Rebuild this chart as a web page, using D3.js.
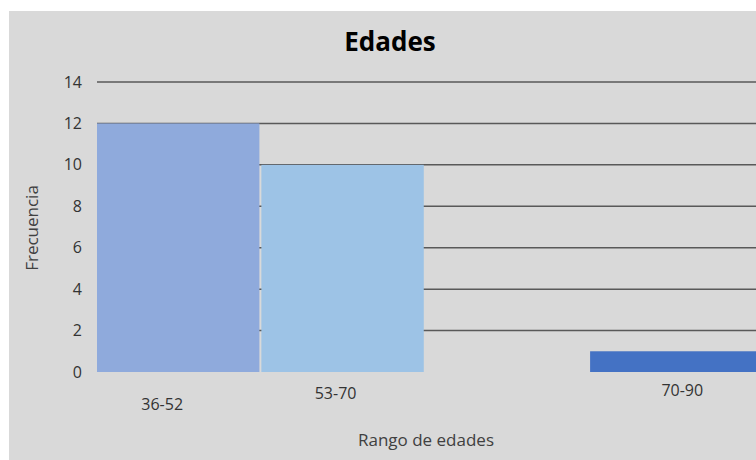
<!DOCTYPE html>
<html>
<head>
<meta charset="utf-8">
<script src="https://cdn.jsdelivr.net/npm/d3@7/dist/d3.min.js"></script>
<style>
  body { margin: 0; background: #fff; }
  svg { display: block; font-family: "Open Sans", sans-serif; }
</style>
</head>
<body>
<svg width="756" height="460"></svg>
<script>
// datos del histograma
var rangos = ["36-52", "53-70", "", "70-90"];
var frecuencias = [12, 10, 0, 1];
var colores = ["#8FAADC", "#9DC3E6", "#9DC3E6", "#4472C4"];
var yTicks = [0, 2, 4, 6, 8, 10, 12, 14];

var svg = d3.select("svg");

// fondo gris del grafico
svg.append("rect")
    .attr("x", 9).attr("y", 11)
    .attr("width", 760).attr("height", 460)
    .attr("fill", "#D9D9D9");

var margin = {top: 82, left: 97},
    height = 290;

var keys = rangos.map(function(d, i) { return i; });

var x = d3.scaleBand().domain(keys).range([margin.left, 752.5]).paddingInner(0.012),
    y = d3.scaleLinear().domain([0, 14]).range([margin.top + height, margin.top]);

// lineas de cuadricula
svg.append("g")
    .attr("class", "grid")
    .selectAll("line")
    .data(yTicks.filter(function(d) { return d > 0; }))
    .enter().append("line")
      .attr("x1", margin.left)
      .attr("x2", 756)
      .attr("y1", function(d) { return y(d); })
      .attr("y2", function(d) { return y(d); })
      .attr("stroke", "#595959")
      .attr("stroke-width", 1.5);

// barras
svg.selectAll(".bar")
    .data(frecuencias)
    .enter().append("rect")
      .attr("class", "bar")
      .attr("x", function(d, i) { return x(i); })
      .attr("y", function(d) { return y(d); })
      .attr("width", function(d, i) { return i == 3 ? 760 - x(i) : x.bandwidth(); })
      .attr("height", function(d) { return y(0) - y(d); })
      .attr("fill", function(d, i) { return colores[i]; });

// eje y (sin linea)
var yAxis = svg.append("g")
    .attr("transform", "translate(" + (margin.left - 15) + ",0)")
    .call(d3.axisLeft(y).tickValues(yTicks).tickSize(0).tickPadding(0));
yAxis.select(".domain").remove();
yAxis.selectAll("text")
    .style("font-size", "16px")
    .style("font-family", "'Open Sans', sans-serif")
    .style("fill", "#333");

// etiquetas del eje x, colocadas como en el original
var nudgeX = [-16, -7, 0, 11],
    posY = [410, 399, 0, 396];
var xAxis = svg.append("g")
    .call(d3.axisBottom(x).tickSize(0).tickFormat(function(i) { return rangos[i]; }));
xAxis.select(".domain").remove();
xAxis.selectAll(".tick text")
    .attr("y", 0)
    .attr("dy", 0)
    .attr("transform", function(i) { return "translate(" + nudgeX[i] + "," + posY[i] + ")"; })
    .style("font-size", "16px")
    .style("font-family", "'Open Sans', sans-serif")
    .style("fill", "#333");

// titulo
svg.append("text")
    .attr("x", 390).attr("y", 51)
    .attr("text-anchor", "middle")
    .style("font-size", "26px")
    .style("font-weight", "bold")
    .style("fill", "#000")
    .text("Edades");

// titulos de los ejes
svg.append("text")
    .attr("transform", "translate(38,228) rotate(-90)")
    .attr("text-anchor", "middle")
    .style("font-size", "17px")
    .style("fill", "#404040")
    .text("Frecuencia");

svg.append("text")
    .attr("x", 426).attr("y", 446)
    .attr("text-anchor", "middle")
    .style("font-size", "17px")
    .style("fill", "#404040")
    .text("Rango de edades");
</script>
</body>
</html>
